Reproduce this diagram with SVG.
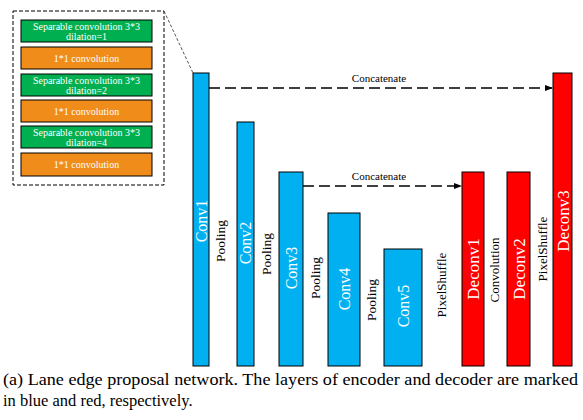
<svg xmlns="http://www.w3.org/2000/svg" width="583" height="420" viewBox="0 0 583 420" font-family="'Liberation Serif', 'Times New Roman', Tinos, 'DejaVu Serif', serif">
<defs>
<marker id="ah" markerWidth="8" markerHeight="6" refX="7" refY="3" orient="auto" markerUnits="userSpaceOnUse">
<path d="M0,0 L8,3 L0,6 Z" fill="#000"/>
</marker>
<style>
.enc{fill:#00B0F0;stroke:#000;stroke-width:1}
.dec{fill:#FF0000;stroke:#000;stroke-width:1}
.grn{fill:#00B050;stroke:#000;stroke-width:1}
.org{fill:#F08C1A;stroke:#000;stroke-width:1}
.bl{font-size:16px;fill:#fff;text-anchor:middle}
.op{font-size:13px;fill:#000;text-anchor:middle}
.bx{font-size:10px;fill:#fff;text-anchor:middle}
.cc{font-size:11px;fill:#000;text-anchor:middle}
.dash{stroke:#000;stroke-width:1.3;stroke-dasharray:11 5;fill:none}
</style>
</defs>
<rect width="583" height="420" fill="#fff"/>
<g id="detail">
<rect x="13" y="11" width="151" height="174" fill="none" stroke="#000" stroke-width="1" stroke-dasharray="4 2"/>
<g id="b1"><rect class="grn" x="21" y="20" width="131" height="22"/><text class="bx" x="86.5" y="29.5">Separable convolution 3*3</text><text class="bx" x="86.5" y="39.5">dilation=1</text></g>
<g id="b2"><rect class="org" x="21" y="47" width="131" height="22"/><text class="bx" x="86.5" y="61.5">1*1 convolution</text></g>
<g id="b3"><rect class="grn" x="21" y="74" width="131" height="22"/><text class="bx" x="86.5" y="83.5">Separable convolution 3*3</text><text class="bx" x="86.5" y="93.5">dilation=2</text></g>
<g id="b4"><rect class="org" x="21" y="100" width="131" height="22"/><text class="bx" x="86.5" y="114.5">1*1 convolution</text></g>
<g id="b5"><rect class="grn" x="21" y="126" width="131" height="22"/><text class="bx" x="86.5" y="135.5">Separable convolution 3*3</text><text class="bx" x="86.5" y="145.5">dilation=4</text></g>
<g id="b6"><rect class="org" x="21" y="153" width="131" height="23"/><text class="bx" x="86.5" y="168">1*1 convolution</text></g>
</g>
<g id="connectors">
<line x1="164" y1="11" x2="193" y2="73" stroke="#555" stroke-width="1" stroke-dasharray="3 2"/>
<line class="dash" x1="209" y1="88" x2="552" y2="88" marker-end="url(#ah)"/>
<line class="dash" x1="303" y1="186" x2="461" y2="186" marker-end="url(#ah)"/>
<text class="cc" x="379" y="82">Concatenate</text>
<text class="cc" x="379" y="180">Concatenate</text>
</g>
<g id="conv1"><rect class="enc" x="193" y="73" width="16" height="293"/><text class="bl" transform="translate(201,221) rotate(-90)" y="5.5">Conv1</text></g>
<g id="conv2"><rect class="enc" x="237" y="122" width="17" height="244"/><text class="bl" transform="translate(245.5,243) rotate(-90)" y="5.5">Conv2</text></g>
<g id="conv3"><rect class="enc" x="279" y="172" width="24" height="194"/><text class="bl" transform="translate(291,268) rotate(-90)" y="5.5">Conv3</text></g>
<g id="conv4"><rect class="enc" x="328" y="213" width="32" height="153"/><text class="bl" transform="translate(344,289) rotate(-90)" y="5.5">Conv4</text></g>
<g id="conv5"><rect class="enc" x="384" y="249" width="38" height="117"/><text class="bl" transform="translate(403,306) rotate(-90)" y="5.5">Conv5</text></g>
<g id="deconv1"><rect class="dec" x="462" y="172" width="22" height="194"/><text class="bl" style="font-size:17px" transform="translate(473,269) rotate(-90)" y="6">Deconv1</text></g>
<g id="deconv2"><rect class="dec" x="507" y="172" width="23" height="194"/><text class="bl" style="font-size:17px" transform="translate(518.5,269) rotate(-90)" y="6">Deconv2</text></g>
<g id="deconv3"><rect class="dec" x="553" y="73" width="19" height="293"/><text class="bl" style="font-size:17px" transform="translate(562.5,221) rotate(-90)" y="6">Deconv3</text></g>
<g id="ops">
<text class="op" style="font-size:13.5px" transform="translate(222,241) rotate(-90)" y="3">Pooling</text>
<text class="op" style="font-size:13.5px" transform="translate(268,254) rotate(-90)" y="3">Pooling</text>
<text class="op" style="font-size:13.5px" transform="translate(317,278) rotate(-90)" y="3">Pooling</text>
<text class="op" style="font-size:13.5px" transform="translate(373,300) rotate(-90)" y="3">Pooling</text>
<text class="op" transform="translate(442,285) rotate(-90)" y="3.5">PixelShuffle</text>
<text class="op" transform="translate(495,270) rotate(-90)" y="4">Convolution</text>
<text class="op" transform="translate(543,249) rotate(-90)" y="3.5">PixelShuffle</text>
</g>
<g id="caption">
<text style="font-size:16.5px" x="3" y="385" textLength="575" lengthAdjust="spacingAndGlyphs">(a)  Lane edge proposal network. The layers of encoder and decoder are marked</text>
<text style="font-size:16.5px" x="3" y="406">in blue and red, respectively.</text>
</g>
</svg>
